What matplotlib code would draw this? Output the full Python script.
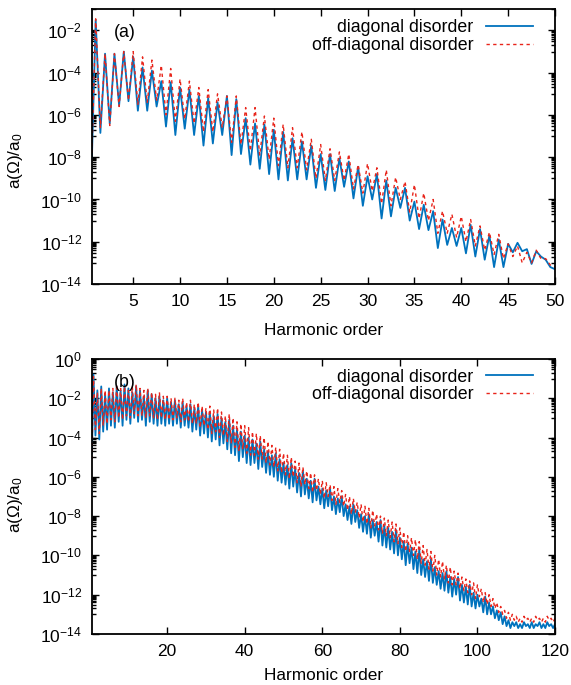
import matplotlib
matplotlib.use("Agg")
import matplotlib.pyplot as plt
import matplotlib.ticker as mticker
import numpy as np

plt.rcParams["font.family"] = ["Liberation Sans", "DejaVu Sans"]
plt.rcParams["mathtext.fontset"] = "custom"
plt.rcParams["mathtext.rm"] = "Liberation Sans"
plt.rcParams["mathtext.it"] = "Liberation Sans:italic"
plt.rcParams["mathtext.default"] = "regular"

BLUE = "#0072bd"
RED = "#e8241a"
FS_TICK = 12.5
FS_LABEL = 12.4
FS_LEG = 12.8

# ---- panel (a): log10 of a(Omega)/a0 read at each harmonic (peaks) and half-harmonic (troughs)
a_orders = np.arange(1, 51)
a_start = {"diag": -8.0, "off": -7.8}   # value at the left edge (order 0.6)
a_diag_peak = [-1.5, -3.1, -3.1, -3.0, -3.25, -3.75, -3.9, -4.4, -4.45, -4.7,
               -4.8, -5.1, -5.2, -5.4, -5.1, -5.25, -6.15, -6.4, -6.45, -6.7,
               -6.8, -7.1, -7.25, -7.45, -7.85, -7.85, -8.05, -8.2, -8.45, -8.9,
               -8.8, -9.1, -9.45, -9.45, -10.1, -10.25, -10.55, -10.95, -11.35, -11.35,
               -11.2, -11.4, -11.7, -11.9, -12.1, -12.05, -12.35, -12.45, -12.85, -13.3]
a_diag_trough = [-6.85, -6.4, -5.55, -5.35, -5.8, -5.8, -5.6, -6.55, -6.95, -6.65,
                 -6.95, -7.45, -7.35, -6.95, -7.9, -7.85, -8.35, -8.55, -8.8, -9.05,
                 -9.1, -9.05, -9.05, -9.45, -9.55, -9.6, -9.4, -9.95, -10.3, -10.0,
                 -10.9, -10.8, -10.4, -11.0, -11.4, -11.45, -12.3, -12.15, -12.2, -12.55,
                 -12.7, -12.85, -13.2, -13.2, -12.5, -12.45, -13.05, -12.7, -13.2]
a_off_peak = [-1.45, -3.1, -3.1, -3.0, -3.0, -3.25, -3.4, -3.65, -3.8, -4.3,
              -4.4, -4.7, -4.8, -5.0, -5.1, -5.1, -5.65, -5.65, -6.05, -6.15,
              -6.45, -6.6, -6.8, -7.15, -7.4, -7.6, -7.75, -7.85, -8.35, -8.3,
              -8.5, -8.6, -8.95, -9.15, -9.3, -9.7, -10.0, -10.55, -10.7, -10.8,
              -10.95, -11.25, -11.55, -11.65, -12.1, -12.2, -12.5, -12.4, -12.8, -13.2]
a_off_trough = [-6.6, -6.5, -5.6, -5.3, -5.5, -5.4, -5.3, -6.0, -6.3, -6.2,
                -6.4, -6.8, -6.8, -6.6, -7.3, -7.4, -7.7, -7.9, -8.1, -8.4,
                -8.5, -8.5, -8.6, -9.0, -9.1, -9.1, -9.1, -9.5, -9.7, -9.6,
                -10.2, -10.3, -10.0, -10.6, -10.9, -11.0, -11.6, -11.6, -11.8, -12.0,
                -12.2, -12.4, -12.6, -12.8, -12.7, -13.0, -13.0, -12.8, -13.1]

# ---- panel (b)
b_orders = np.arange(1, 121)
b_start = {"diag": -4.8, "off": -5.1}
b_diag_peak = [-0.8, -1.6, -1.4, -1.8, -1.5, -1.7, -1.4, -1.6, -1.3, -1.5,
               -1.7, -1.4, -1.6, -1.9, -1.6, -1.8, -2.0, -1.9, -2.1, -2.0,
               -2.2, -2.1, -2.3, -2.2, -2.4, -2.3, -2.5, -2.4, -2.6, -2.7,
               -2.7, -2.9, -2.8, -3.0, -3.2, -3.1, -3.4, -3.6, -3.7, -3.9,
               -4.0, -4.1, -4.3, -4.2, -4.6, -4.7, -4.9, -4.8, -5.1, -5.3,
               -5.4, -5.3, -5.6, -5.8, -5.7, -6.1, -6.2, -6.1, -6.5, -6.6,
               -6.7, -6.6, -7.0, -7.1, -7.0, -7.4, -7.5, -7.4, -7.7, -7.9,
               -8.0, -7.9, -8.2, -8.3, -8.2, -8.5, -8.6, -8.8, -8.7, -9.1,
               -9.3, -9.4, -9.6, -9.8, -9.7, -10.2, -10.3, -10.2, -10.6, -10.8,
               -10.9, -10.8, -11.1, -11.2, -11.1, -11.5, -11.6, -11.5, -11.9, -12.0,
               -12.2, -12.1, -12.4, -12.6, -12.8, -12.9, -13.1, -13.3, -13.4, -13.4,
               -13.5, -13.4, -13.5, -13.4, -13.5, -13.4, -13.5, -13.4, -13.5, -13.5]
b_diag_trough = [-3.9, -4.1, -3.7, -3.6, -3.4, -3.5, -3.2, -3.4, -3.1, -3.3,
                 -3.0, -3.2, -3.1, -3.4, -3.2, -3.3, -3.4, -3.3, -3.4, -3.3,
                 -3.4, -3.3, -3.5, -3.4, -3.5, -3.7, -3.6, -3.9, -3.8, -4.0,
                 -4.2, -4.1, -4.4, -4.3, -4.6, -4.8, -4.9, -5.2, -5.0, -5.3,
                 -5.4, -5.3, -5.6, -5.5, -5.8, -5.9, -6.0, -6.2, -6.3, -6.4,
                 -6.6, -6.5, -6.8, -7.0, -6.9, -7.1, -7.3, -7.2, -7.4, -7.6,
                 -7.5, -7.7, -7.9, -7.8, -8.0, -8.2, -8.4, -8.3, -8.6, -8.8,
                 -8.9, -9.1, -9.0, -9.3, -9.5, -9.6, -9.7, -9.9, -10.0, -10.2,
                 -10.5, -10.4, -10.7, -10.9, -11.0, -11.1, -11.3, -11.4, -11.5, -11.7,
                 -11.8, -11.9, -12.1, -12.0, -12.3, -12.4, -12.5, -12.6, -12.7, -12.6,
                 -12.9, -13.0, -13.0, -13.2, -13.3, -13.5, -13.6, -13.7, -13.6, -13.7,
                 -13.7, -13.6, -13.7, -13.7, -13.6, -13.7, -13.7, -13.6, -13.7]
b_off_peak = [-0.9, -1.7, -1.5, -1.6, -1.6, -1.5, -1.3, -1.5, -1.4, -1.6,
              -1.4, -1.3, -1.5, -1.6, -1.5, -1.7, -1.8, -1.7, -1.9, -1.9,
              -2.0, -2.0, -2.1, -2.0, -2.2, -2.1, -2.3, -2.2, -2.4, -2.5,
              -2.4, -2.6, -2.5, -2.7, -2.9, -2.8, -3.0, -3.2, -3.3, -3.4,
              -3.5, -3.7, -3.8, -3.9, -4.0, -4.2, -4.4, -4.5, -4.6, -4.8,
              -4.9, -5.0, -5.2, -5.3, -5.5, -5.7, -5.8, -5.9, -6.1, -6.2,
              -6.3, -6.4, -6.5, -6.6, -6.7, -6.9, -7.0, -7.1, -7.3, -7.4,
              -7.5, -7.6, -7.7, -7.9, -8.0, -8.1, -8.2, -8.3, -8.4, -8.6,
              -8.8, -9.0, -9.1, -9.2, -9.3, -9.5, -9.7, -9.8, -10.0, -10.2,
              -10.3, -10.5, -10.6, -10.8, -10.9, -11.1, -11.2, -11.3, -11.4, -11.5,
              -11.7, -11.9, -12.0, -12.2, -12.4, -12.6, -12.8, -12.9, -13.0, -13.1,
              -13.2, -13.1, -13.2, -13.2, -13.1, -13.2, -13.2, -13.1, -13.2, -13.2]
b_off_trough = [-3.6, -3.8, -3.4, -3.3, -3.1, -3.2, -3.0, -3.1, -2.9, -3.0,
                -2.8, -2.9, -2.9, -3.0, -2.9, -3.0, -3.1, -3.0, -3.1, -3.1,
                -3.1, -3.0, -3.2, -3.1, -3.2, -3.3, -3.3, -3.5, -3.4, -3.6,
                -3.8, -3.7, -4.0, -3.9, -4.2, -4.3, -4.5, -4.7, -4.6, -4.8,
                -4.9, -4.9, -5.1, -5.1, -5.3, -5.4, -5.5, -5.7, -5.8, -5.9,
                -6.1, -6.0, -6.3, -6.5, -6.4, -6.6, -6.8, -6.7, -6.9, -7.1,
                -7.0, -7.2, -7.4, -7.3, -7.5, -7.7, -7.9, -7.8, -8.1, -8.3,
                -8.4, -8.6, -8.5, -8.7, -8.9, -9.0, -9.1, -9.3, -9.4, -9.6,
                -9.8, -9.8, -10.0, -10.2, -10.4, -10.5, -10.7, -10.8, -11.0, -11.1,
                -11.2, -11.4, -11.5, -11.5, -11.7, -11.8, -11.9, -12.0, -12.2, -12.1,
                -12.4, -12.5, -12.6, -12.7, -12.9, -13.0, -13.2, -13.3, -13.3, -13.4,
                -13.4, -13.3, -13.4, -13.4, -13.3, -13.4, -13.4, -13.3, -13.4]


def spectrum(orders, start, peaks, troughs):
    # peaks sit on the harmonics, troughs half-way between them
    x = [0.6]
    y = [start]
    for i, n in enumerate(orders):
        x.append(n)
        y.append(peaks[i])
        if i < len(troughs):
            x.append(n + 0.5)
            y.append(troughs[i])
    return np.array(x), 10.0 ** np.array(y)


def style_axis(ax, ymax_exp, xticks, xmax, ylab_y, xlab_y):
    ax.set_yscale("log")
    ax.set_ylim(1e-14, 10.0 ** ymax_exp)
    ax.set_xlim(0.6, xmax)
    ax.set_xticks(xticks)
    major = [10.0 ** e for e in range(-14, 1, 2)]
    ax.yaxis.set_major_locator(mticker.FixedLocator(major))
    ax.yaxis.set_major_formatter(mticker.LogFormatterMathtext())
    minor = [k * 10.0 ** e for e in range(-13, 0, 2) for k in range(1, 10)]
    ax.yaxis.set_minor_locator(mticker.FixedLocator(minor))
    ax.yaxis.set_minor_formatter(mticker.NullFormatter())
    ax.tick_params(which="both", direction="in", top=True, right=True, labelsize=FS_TICK, width=1)
    ax.tick_params(which="major", length=5)
    ax.tick_params(which="minor", length=3)
    ax.tick_params(axis="x", pad=7)
    ax.tick_params(axis="y", pad=7)
    for s in ax.spines.values():
        s.set_linewidth(1.3)
    ax.set_xlabel("Harmonic order", fontsize=FS_LABEL)
    ax.set_ylabel(r"a($\Omega$)/a$_0$", fontsize=FS_LABEL)
    ax.xaxis.set_label_coords(0.5, xlab_y)
    ax.xaxis.label.set_va("center")
    ax.yaxis.set_label_coords(-0.166, ylab_y)
    ax.yaxis.label.set_va("center")


fig = plt.figure(figsize=(5.71, 6.85), dpi=100)
ax_a = fig.add_axes([0.161, 0.5854, 0.811, 0.401])
ax_b = fig.add_axes([0.161, 0.0745, 0.811, 0.4015])

xa, ya_d = spectrum(a_orders, a_start["diag"], a_diag_peak, a_diag_trough)
_, ya_o = spectrum(a_orders, a_start["off"], a_off_peak, a_off_trough)
ax_a.plot(xa, ya_d, color=BLUE, lw=1.3, label="diagonal disorder")
ax_a.plot(xa, ya_o, color=RED, lw=1.0, dashes=(2.4, 2.4), label="off-diagonal disorder")
style_axis(ax_a, -1, [5, 10, 15, 20, 25, 30, 35, 40, 45, 50], 50, 0.45, -0.170)

xb, yb_d = spectrum(b_orders, b_start["diag"], b_diag_peak, b_diag_trough)
_, yb_o = spectrum(b_orders, b_start["off"], b_off_peak, b_off_trough)
ax_b.plot(xb, yb_d, color=BLUE, lw=1.3, label="diagonal disorder")
ax_b.plot(xb, yb_o, color=RED, lw=1.0, dashes=(2.4, 2.4), label="off-diagonal disorder")
style_axis(ax_b, 0, [20, 40, 60, 80, 100, 120], 120, 0.47, -0.150)

for ax, tag in [(ax_a, "(a)"), (ax_b, "(b)")]:
    ax.text(0.071, 0.915, tag, transform=ax.transAxes, fontsize=FS_LEG, ha="center", va="center")
    ax.legend(loc="upper right", bbox_to_anchor=(0.953, 0.965), frameon=False,
              markerfirst=False, fontsize=FS_LEG, handlelength=2.65, borderpad=0,
              borderaxespad=0, labelspacing=0.05, handletextpad=0.7)

fig.savefig("out.png", dpi=100)
